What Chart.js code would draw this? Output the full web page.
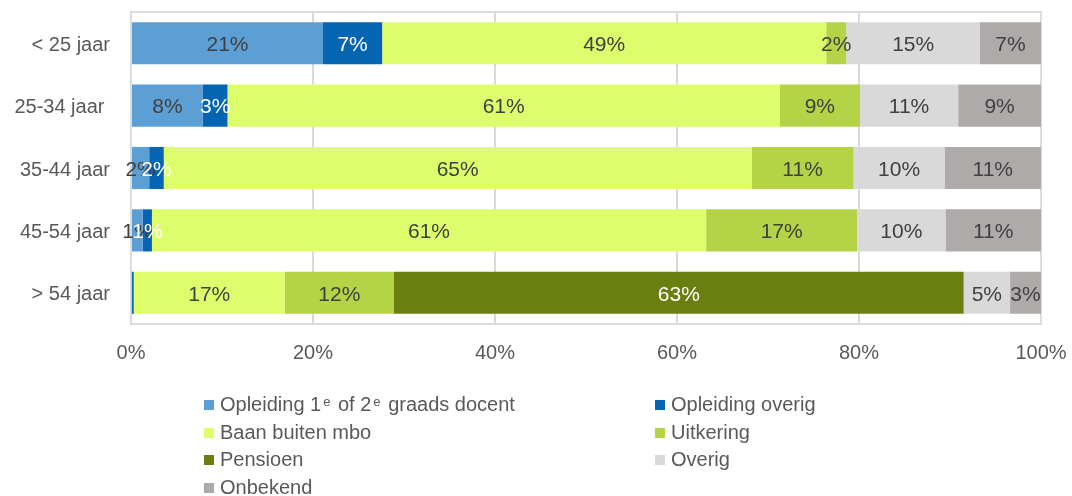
<!DOCTYPE html>
<html>
<head>
<meta charset="utf-8">
<script src="https://cdn.jsdelivr.net/npm/chart.js@4/dist/chart.umd.min.js"></script>
<style>
  body { margin: 0; background: #fff; font-family: "Liberation Sans", Arial, sans-serif; }
  #wrap { position: absolute; left: 0; top: 0; width: 1072px; height: 380px; }
  #legend { position: absolute; left: 0; top: 0; width: 1072px; height: 496px; pointer-events: none; }
  .item { position: absolute; font-size: 20px; color: #595959; line-height: 24px; white-space: nowrap; }
  .item i { display: inline-block; width: 10px; height: 10px; margin-right: 6px; vertical-align: 1px; }
  .item sup { font-size: 13px; vertical-align: 5px; line-height: 0; margin: 0 2px 0 2px; }
</style>
</head>
<body>
<div id="wrap"><canvas id="chart"></canvas></div>
<div id="legend"></div>
<script>
// --- Data ---
let categories = ["< 25 jaar", "25-34 jaar ", "35-44 jaar", "45-54 jaar", "> 54 jaar"];
let seriesNames = ["Opleiding 1e of 2e graads docent", "Opleiding overig", "Baan buiten mbo", "Uitkering", "Pensioen", "Overig", "Onbekend"];
let opleidingDocent = [21.1, 7.9, 2.0, 1.3, 0.1];
let opleidingOverig = [6.5, 2.7, 1.6, 1.0, 0.2];
let baanBuitenMbo   = [48.8, 60.7, 64.6, 60.9, 16.6];
let uitkering       = [2.2, 8.8, 11.2, 16.6, 12.0];
let pensioen        = [0, 0, 0, 0, 62.6];
let overig          = [14.7, 10.8, 10.0, 9.7, 5.1];
let onbekend        = [6.7, 9.1, 10.6, 10.5, 3.4];
let xTicks = [0, 20, 40, 60, 80, 100];

let seriesData = [opleidingDocent, opleidingOverig, baanBuitenMbo, uitkering, pensioen, overig, onbekend];
let colors = ["#5b9fd5", "#0565b2", "#ddfd6c", "#b4d346", "#6a7f10", "#d9d9d9", "#aeaaaa"];
let labelColors = ["#404040", "#ffffff", "#404040", "#404040", "#ffffff", "#404040", "#404040"];

const FONT = "'Liberation Sans', Arial, sans-serif";

// --- Plugins ---
// plot area frame (top/bottom lines like the original)
let framePlugin = {
  id: "frame",
  beforeDatasetsDraw(chart) {
    let a = chart.chartArea;
    let ctx = chart.ctx;
    ctx.save();
    ctx.strokeStyle = "#dcdcdc";
    ctx.lineWidth = 2;
    ctx.strokeRect(a.left, a.top, a.right - a.left, a.bottom - a.top);
    ctx.restore();
  }
};

// percentage labels in the middle of each segment
let labelPlugin = {
  id: "segLabels",
  afterDatasetsDraw(chart) {
    let ctx = chart.ctx;
    ctx.save();
    ctx.font = "21px " + FONT;
    ctx.textAlign = "center";
    ctx.textBaseline = "middle";
    chart.data.datasets.forEach((ds, i) => {
      let meta = chart.getDatasetMeta(i);
      meta.data.forEach((bar, j) => {
        let v = Math.round(ds.data[j]);
        if (v < 1) return;
        ctx.fillStyle = labelColors[i];
        ctx.fillText(v + "%", (bar.x + bar.base) / 2, bar.y + 2);
      });
    });
    ctx.restore();
  }
};

// --- Chart ---
let ctx = document.getElementById("chart").getContext("2d");
new Chart(ctx, {
  type: "bar",
  data: {
    labels: categories,
    datasets: seriesNames.map((name, i) => ({
      label: name,
      data: seriesData[i],
      backgroundColor: colors[i],
      borderWidth: 0,
      barPercentage: 0.675,
      categoryPercentage: 1
    }))
  },
  options: {
    indexAxis: "y",
    responsive: true,
    maintainAspectRatio: false,
    devicePixelRatio: 1,
    animation: false,
    layout: { padding: { top: 12, right: 31, left: 0, bottom: 0 } },
    plugins: {
      legend: { display: false },
      tooltip: { enabled: false }
    },
    scales: {
      x: {
        stacked: true,
        min: 0,
        max: 100,
        afterBuildTicks: (s) => { s.ticks = xTicks.map(v => ({ value: v })); },
        afterFit: (s) => { s.height = 56; s.paddingLeft = 0; s.paddingRight = 0; },
        border: { display: false },
        grid: { color: "#d9d9d9", lineWidth: 2, drawTicks: false },
        ticks: {
          color: "#595959",
          padding: 17,
          font: { family: FONT, size: 20 },
          callback: v => v + "%"
        }
      },
      y: {
        stacked: true,
        afterFit: (s) => { s.width = 131; s.paddingTop = 0; s.paddingBottom = 0; },
        border: { display: false },
        grid: { display: false, drawTicks: false },
        ticks: {
          color: "#595959",
          padding: 21,
          labelOffset: 2,
          font: { family: FONT, size: 20 }
        }
      }
    }
  },
  plugins: [framePlugin, labelPlugin]
});

// --- Legend (HTML, for the superscripts) ---
let legendPos = [[204, 392], [655, 392], [204, 419.5], [655, 419.5], [204, 447], [655, 447], [204, 474.5]];
let legend = document.getElementById("legend");
seriesNames.forEach((name, i) => {
  let el = document.createElement("div");
  el.className = "item";
  el.style.left = legendPos[i][0] + "px";
  el.style.top = legendPos[i][1] + "px";
  let text = name.replace("1e", "1<sup>e</sup>").replace("2e", "2<sup>e</sup>");
  el.innerHTML = `<i style="background:${colors[i]}"></i>${text}`;
  legend.appendChild(el);
});
</script>
</body>
</html>
